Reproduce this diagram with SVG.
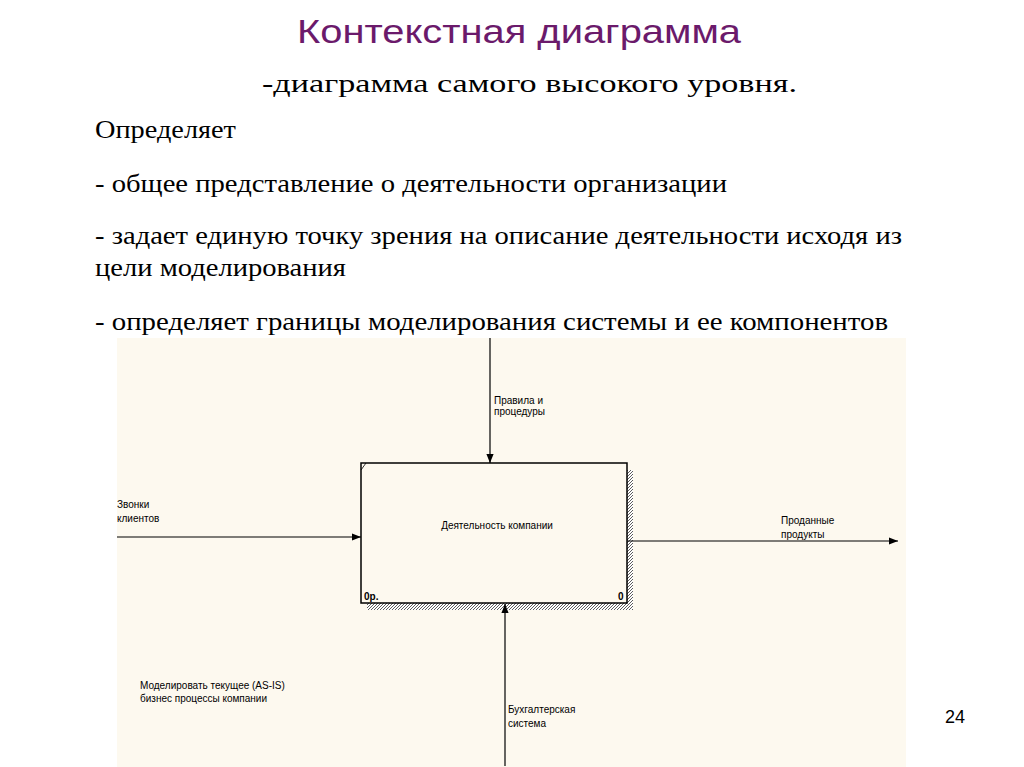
<svg xmlns="http://www.w3.org/2000/svg" width="1024" height="767" viewBox="0 0 1024 767">
<defs>
<style>
.t{font-family:"Liberation Serif",serif;font-size:25px;fill:#000}
.s{font-family:"Liberation Sans",Arial,sans-serif;font-size:10px;fill:#000}
.c{stroke:#000;stroke-width:1.2;fill:none}
</style>
<marker id="a" viewBox="0 0 10 10" refX="10" refY="5" markerWidth="9" markerHeight="9" markerUnits="userSpaceOnUse" orient="auto"><path d="M0,1 L10,5 L0,9 Z" fill="#000"/></marker>
<pattern id="h" width="3" height="3" patternUnits="userSpaceOnUse"><rect width="3" height="3" fill="#fff"/><path d="M0,3 L3,0" stroke="#333" stroke-width="0.8"/></pattern>
</defs>
<rect width="1024" height="767" fill="#fff"/>
<text x="297" y="43" font-family="Liberation Sans,Arial,sans-serif" font-size="34" fill="#6b1a6b" textLength="444" lengthAdjust="spacingAndGlyphs">Контекстная диаграмма</text>
<text x="262" y="92" class="t" font-size="27" textLength="535" lengthAdjust="spacingAndGlyphs">-диаграмма самого высокого уровня.</text>
<text x="95" y="138" class="t" textLength="141" lengthAdjust="spacingAndGlyphs">Определяет</text>
<text x="95" y="192" class="t" textLength="632" lengthAdjust="spacingAndGlyphs">- общее представление о деятельности организации</text>
<text x="95" y="244" class="t" textLength="807" lengthAdjust="spacingAndGlyphs">- задает единую точку зрения на описание деятельности исходя из</text>
<text x="95" y="276" class="t" textLength="251" lengthAdjust="spacingAndGlyphs">цели моделирования</text>
<text x="95" y="330" class="t" textLength="793" lengthAdjust="spacingAndGlyphs">-  определяет границы моделирования системы и ее компонентов</text>
<rect x="117" y="338" width="789" height="429" fill="#fdf9ef"/>
<g id="node-activity">
<rect x="627" y="470" width="6" height="140" fill="url(#h)"/>
<rect x="367" y="603" width="266" height="7" fill="url(#h)"/>
<rect x="361" y="463" width="266" height="140" fill="#fdf9ef" stroke="#000" stroke-width="1.5"/>
<path d="M361,470 L366,463" stroke="#000" stroke-width="0.8"/>
<text x="497" y="529" class="s" text-anchor="middle">Деятельность компании</text>
<text x="364" y="600" class="s" font-size="8" font-weight="bold">0р.</text>
<text x="618" y="600" class="s" font-size="8" font-weight="bold">0</text>
</g>
<g id="connectors">
<path class="c" d="M490,338 V463" marker-end="url(#a)"/>
<path class="c" d="M117,537 H361" marker-end="url(#a)"/>
<path class="c" d="M627,541 H898" marker-end="url(#a)"/>
<path class="c" d="M505,766 V604" marker-end="url(#a)"/>
</g>
<g id="labels">
<text x="494" y="404" class="s">Правила и</text>
<text x="494" y="415" class="s">процедуры</text>
<text x="117" y="508" class="s">Звонки</text>
<text x="117" y="522" class="s">клиентов</text>
<text x="781" y="524" class="s">Проданные</text>
<text x="781" y="538" class="s">продукты</text>
<text x="508" y="713" class="s">Бухгалтерская</text>
<text x="508" y="727" class="s">система</text>
<text x="140" y="689" class="s">Моделировать текущее (AS-IS)</text>
<text x="140" y="702" class="s">бизнес процессы компании</text>
</g>
<text x="955" y="723" text-anchor="middle" font-family="Liberation Sans,Arial,sans-serif" font-size="18">24</text>
</svg>
